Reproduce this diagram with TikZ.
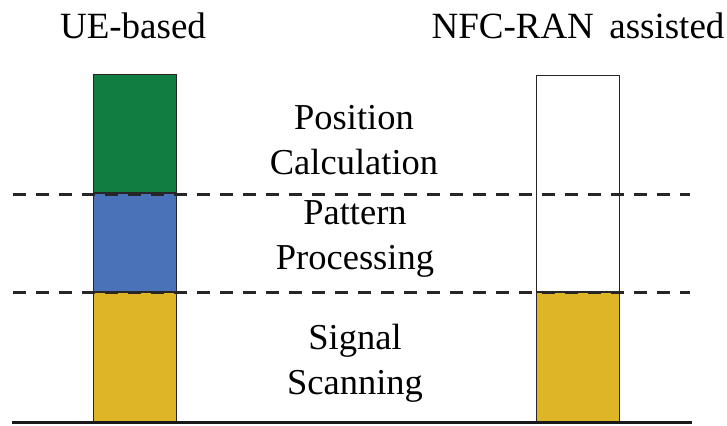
\documentclass[tikz,border=0pt]{standalone}
\usepackage{fontspec}
\setmainfont{Liberation Serif}
\usepackage{tikz}
\definecolor{calcgreen}{HTML}{0F7E40}
\definecolor{patblue}{HTML}{4A72B8}
\definecolor{scanyellow}{HTML}{DDB526}
\tikzstyle{segbox} = [draw=black!85, line width=0.9pt, rectangle, minimum width=83pt, inner sep=0pt]
\tikzstyle{stagetext} = [align=center, font=\fontsize{36.5}{45}\selectfont, inner sep=0pt]
\tikzstyle{headtext} = [font=\fontsize{37}{40}\selectfont, inner sep=0pt]
\tikzstyle{levelline} = [black!85, line width=3pt, dash pattern=on 13pt off 10pt]

\begin{document}
\begin{tikzpicture}[x=1pt, y=1pt]
                \useasboundingbox (0,0) rectangle (727,425);
                % UE-based bar
                \node [segbox, fill=scanyellow, minimum height=129pt, anchor=south west] (uescan) at (93,3) {};
                \node [segbox, fill=patblue, minimum height=98pt, anchor=south] (uepat) at (uescan.north) {};
                \node [segbox, fill=calcgreen, minimum height=118pt, anchor=south] (uecalc) at (uepat.north) {};
                % NFC-RAN assisted bar
                \node [segbox, fill=scanyellow, minimum height=129pt, anchor=south west] (nfcscan) at (536,3) {};
                \node [segbox, fill=white, minimum height=216pt, anchor=south] (nfcrest) at (nfcscan.north) {};
                % level lines
                \coordinate (lineAstart) at (13,230);
                \coordinate (lineAend) at (690,230);
                \coordinate (lineBstart) at (13,132);
                \coordinate (lineBend) at (690,132);
                \draw [levelline] (lineAstart) -- (lineAend);
                \draw [levelline] (lineBstart) -- (lineBend);
                \coordinate (groundstart) at (12,3);
                \coordinate (groundend) at (692,3);
                \draw [black!90, line width=3pt] (groundstart) -- (groundend);
                % labels
                \node [headtext] (uehead) at (133,399) {UE-based};
                \node [headtext] (nfchead) at (578,399) {NFC-RAN\, assisted};
                \node [stagetext] (calc) at (354,285) {Position\\Calculation};
                \node [stagetext] (pat) at (355,186) {Pattern\\Processing};
                \node [stagetext] (scan) at (355,62) {Signal\\Scanning};
            \end{tikzpicture}
\end{document}
